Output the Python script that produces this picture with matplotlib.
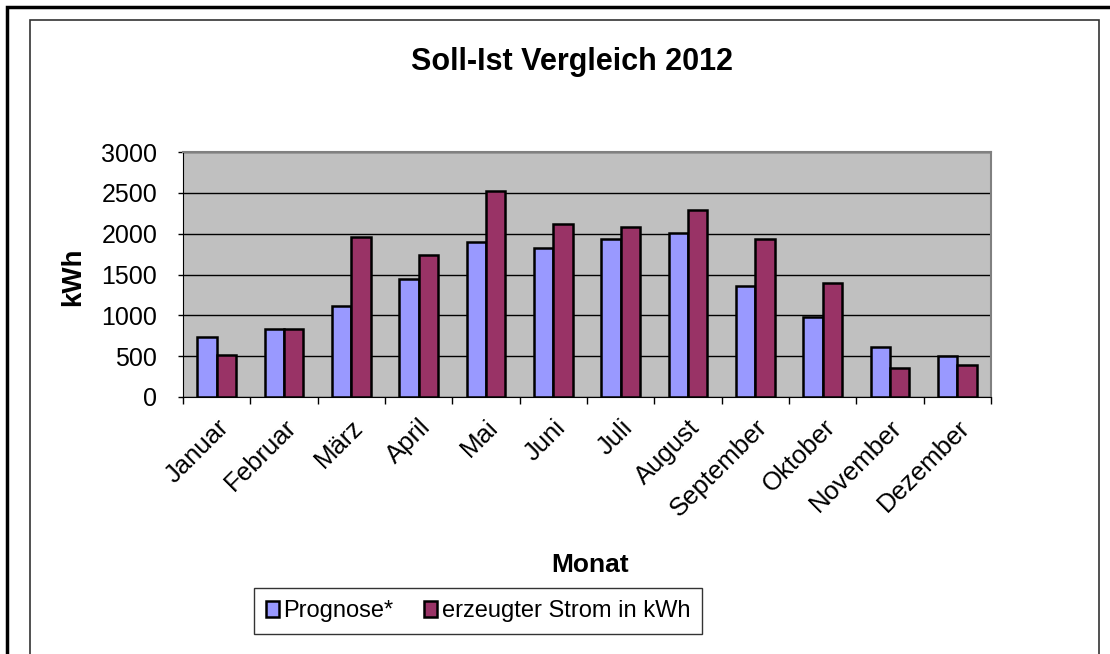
import numpy as np
import matplotlib
matplotlib.use("Agg")
import matplotlib.pyplot as plt
from matplotlib.patches import Rectangle

plt.rcParams['font.family'] = ['Liberation Sans', 'DejaVu Sans']

months = ["Januar", "Februar", "März", "April", "Mai", "Juni",
          "Juli", "August", "September", "Oktober", "November", "Dezember"]
prognose = [740, 830, 1120, 1450, 1900, 1830, 1930, 2010, 1360, 980, 610, 500]
erzeugt = [520, 830, 1960, 1740, 2520, 2115, 2085, 2295, 1935, 1390, 355, 395]

title = "Soll-Ist Vergleich 2012"
ylabel = "kWh"
xlabel = "Monat"
legend_labels = ["Prognose*", "erzeugter Strom in kWh"]

blue = '#9999FF'
red = '#993366'

fig = plt.figure(figsize=(11.1, 6.54), dpi=100)
W, H = 1110, 654

# frames around the chart
fig.add_artist(Rectangle((7 / W, -0.1), 1.2, 1.1 - 7 / H, transform=fig.transFigure,
                         fill=False, edgecolor='black', linewidth=2.5))
fig.add_artist(Rectangle((30 / W, -0.1), (1099 - 30) / W, 1.1 - 20 / H, transform=fig.transFigure,
                         fill=False, edgecolor='#333333', linewidth=1.2))

# plot area: x 183..991, y 152..397 in pixels
ax = fig.add_axes([183 / W, 1 - 397 / H, (991 - 183) / W, (397 - 152) / H])
ax.set_facecolor('#C0C0C0')

x = np.arange(len(months))
bw = 1 / 3.5
ax.bar(x - bw / 2, prognose, width=bw, color=blue, edgecolor='black', linewidth=1.8,
       label=legend_labels[0], zorder=3)
ax.bar(x + bw / 2, erzeugt, width=bw, color=red, edgecolor='black', linewidth=1.8,
       label=legend_labels[1], zorder=3)

ax.set_xlim(-0.5, len(months) - 0.5)
ax.set_ylim(0, 3000)
ax.set_yticks(np.arange(0, 3001, 500))
ax.yaxis.grid(True, color='black', linewidth=1.0, zorder=1)
ax.set_axisbelow(True)

ax.set_xticks(x)
ax.set_xticklabels(months, rotation=45, ha='right', rotation_mode='anchor', fontsize=18.5)
ax.tick_params(axis='x', length=0, pad=13)
ax.set_xticks(np.arange(-0.5, len(months), 1), minor=True)
ax.tick_params(axis='x', which='minor', length=5, width=1, direction='out')
ax.tick_params(axis='y', length=3.6, width=1, labelsize=18, pad=15)

for side in ['top', 'right']:
    ax.spines[side].set_color('#808080')
    ax.spines[side].set_linewidth(1.5)
ax.spines['left'].set_color('black')
ax.spines['bottom'].set_color('black')

fig.text(73 / W, 1 - 277 / H, ylabel, fontsize=20, fontweight='bold', rotation=90,
         ha='center', va='center')
fig.text(572 / W, 1 - 62 / H, title, fontsize=22, fontweight='bold', ha='center', va='center')
fig.text(590 / W, 1 - 565 / H, xlabel, fontsize=19, fontweight='bold', ha='center', va='center')

leg = fig.legend(loc='center', bbox_to_anchor=(478 / W, 1 - 611 / H), ncol=2, fontsize=17,
                 frameon=True, fancybox=False, edgecolor='black', handlelength=0.55,
                 handleheight=0.65, handletextpad=0.2, columnspacing=1.3, borderpad=0.5)
leg.get_frame().set_linewidth(1.0)

fig.savefig('out.png', dpi=100)
